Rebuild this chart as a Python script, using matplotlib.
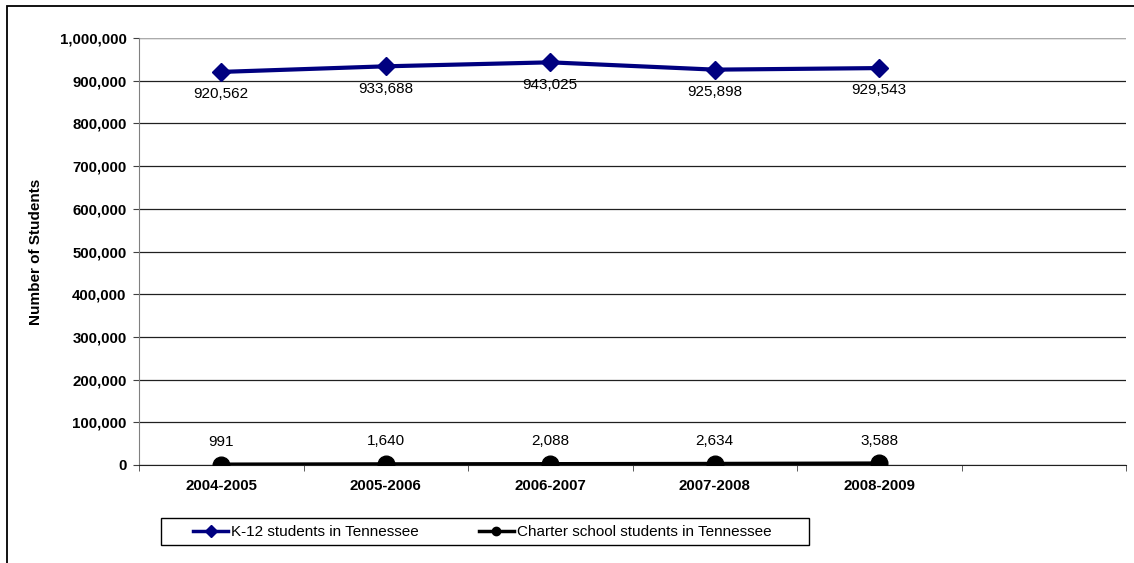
import matplotlib.pyplot as plt
from matplotlib.patches import Rectangle
from matplotlib.ticker import FuncFormatter, FixedLocator

plt.rcParams['font.family'] = ['Liberation Sans', 'DejaVu Sans']

years = ['2004-2005', '2005-2006', '2006-2007', '2007-2008', '2008-2009']
k12 = [920562, 933688, 943025, 925898, 929543]
charter = [991, 1640, 2088, 2634, 3588]

W, H = 1134, 563
fig = plt.figure(figsize=(W / 100, H / 100), dpi=100)
# outer chart border
fig.patches.append(Rectangle((7 / W, -0.3), 1.2, 1.3 - 6 / H, transform=fig.transFigure,
                             fill=False, edgecolor='black', linewidth=1.3))

ax = fig.add_axes([139 / W, 1 - 465 / H, (1126 - 139) / W, (465 - 38) / H])

x = list(range(len(years)))
ax.plot(x, k12, color='#000080', linewidth=3, marker='D', markersize=9,
        label='K-12 students in Tennessee', zorder=4)
ax.plot(x, charter, color='black', linewidth=3, marker='o', markersize=12,
        label='Charter school students in Tennessee', zorder=4)

for xi, v in zip(x, k12):
    ax.annotate(f'{v:,}', (xi, v), xytext=(0, -16), textcoords='offset points',
                ha='center', va='center', fontsize=11)
for xi, v in zip(x, charter):
    ax.annotate(f'{v:,}', (xi, v), xytext=(0, 16.5), textcoords='offset points',
                ha='center', va='center', fontsize=11)

ax.set_xlim(-0.5, 5.5)
ax.set_ylim(0, 1000000)
ax.set_yticks(range(0, 1000001, 100000))
ax.yaxis.set_major_formatter(FuncFormatter(lambda v, p: f'{int(v):,}'))
ax.set_xticks(x)
ax.set_xticklabels(years, fontweight='bold', fontsize=10.8)
ax.xaxis.set_minor_locator(FixedLocator([i - 0.5 for i in range(7)]))
ax.tick_params(axis='x', which='major', length=0, pad=10)
ax.tick_params(axis='x', which='minor', length=4, color='#404040')
ax.tick_params(axis='y', length=4, color='#404040', pad=5)
for lab in ax.get_yticklabels():
    lab.set_fontweight('bold')
    lab.set_fontsize(10.8)

ax.grid(axis='y', color='#202020', linewidth=0.9)
ax.set_axisbelow(True)
for s in ['top', 'right']:
    ax.spines[s].set_visible(False)
ax.spines['left'].set_color('#808080')
ax.spines['bottom'].set_color('#202020')
ax.axhline(1000000, color='#c8c8c8', linewidth=1.2, zorder=1)

ax.set_ylabel('Number of Students', fontweight='bold', fontsize=11)
ax.yaxis.set_label_coords((43 - 139) / (1126 - 139), 0.5)

# legend with a separate frame box
leg = fig.legend(loc='center left', bbox_to_anchor=(193 / W, 1 - 532 / H),
                 bbox_transform=fig.transFigure, ncol=2, frameon=False,
                 fontsize=11, handlelength=2.3, handletextpad=0.2,
                 columnspacing=3.9, borderpad=0, borderaxespad=0)
for h in leg.legend_handles:
    h.set_linewidth(2.5)
    h.set_markersize(6)
fig.patches.append(Rectangle((161 / W, 1 - 545 / H), (809 - 161) / W, 27 / H,
                             transform=fig.transFigure, fill=False,
                             edgecolor='black', linewidth=1.0))

fig.savefig('out.png', dpi=100)
